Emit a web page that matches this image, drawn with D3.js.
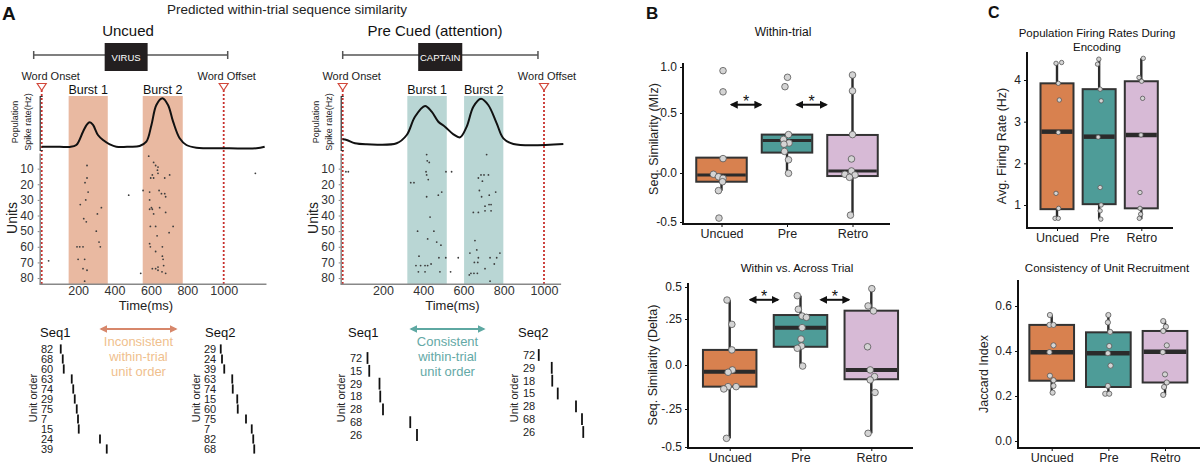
<!DOCTYPE html>
<html>
<head>
<meta charset="utf-8">
<script src="https://cdn.jsdelivr.net/npm/d3@7"></script>
<style>
  body { margin: 0; background: #fff; }
  svg { display: block; }
  text { font-family: "Liberation Sans", Arial, Helvetica, sans-serif; }
</style>
</head>
<body>
<svg id="chart" width="1200" height="465"></svg>
<script>
// ---------------- data ----------------
var conditions = ["Uncued", "Pre", "Retro"];

// panel A: population spike rate, [time ms, Hz]
var uncuedRate = [[0,0.73],[99,0.73],[154,0.67],[190,1.11],[227,4.07],[249,5.71],[264,6.16],[282,5.56],[309,3.33],[337,2.22],[374,1.27],[410,0.73],[484,0.73],[538,0.89],[575,1.84],[603,5.56],[630,10.0],[663,11.49],[694,10.0],[722,6.29],[758,2.6],[795,1.11],[850,0.51],[1033,0.38],[1180,0.38],[1225,0.73]];
var precuedRate = [[0,2.38],[20,2.22],[61,1.49],[119,1.27],[268,1.49],[318,3.33],[359,7.4],[409,9.78],[442,8.51],[475,6.29],[508,5.18],[550,3.49],[583,2.82],[616,5.18],[649,9.62],[687,11.4],[723,10.0],[765,5.93],[798,2.6],[848,1.33],[1096,1.33]];

// panel A: raster spikes, [time ms, unit]
var uncuedSpikes = [[249,8],[249,16],[238,19],[255,25],[242,30],[212,33],[328,35],[306,39],[231,42],[245,44],[300,50],[315,57],[322,60],[194,60],[209,60],[227,60],[200,68],[236,68],[227,74],[249,75],[236,82],
  [478,27],[38,69],[1174,13],[544,77],
  [588,2],[615,6],[626,8],[639,9],[636,11],[608,14],[599,16],[615,16],[639,13],[676,16],[703,14],[557,24],[593,25],[645,24],[658,26],[676,26],[681,28],[593,30],[603,35],[608,36],[615,39],[593,36],[648,35],[681,38],[722,47],[597,47],[626,47],[700,51],[634,53],[593,58],[597,60],[626,63],[663,60],[663,66],[667,68],[670,72],[639,73],[608,74],[639,75],[661,76],[681,77],[626,74]];
var precuedSpikes = [[417,1],[420,5],[430,6],[414,12],[417,14],[425,17],[338,19],[354,19],[417,28],[492,25],[475,27],[434,41],[372,50],[453,50],[422,55],[467,57],[488,59],[379,66],[478,67],[512,67],[364,72],[387,72],[409,72],[422,72],[439,71],[376,76],[409,76],[483,76],[513,12],
  [541,12],[574,67],[536,76],[16,12],[28,12],
  [715,1],[674,16],[687,14],[702,14],[724,14],[694,18],[679,24],[760,25],[690,28],[728,27],[707,34],[727,33],[737,33],[707,37],[737,37],[649,38],[674,38],[657,56],[666,62],[632,64],[674,67],[732,67],[765,67],[781,64],[654,70],[671,70],[753,71],[707,74],[629,78],[637,77],[652,77],[669,77],[732,82]];

var uncuedBursts = [[148,363],[555,775]];
var precuedBursts = [[321,517],[603,798]];
var burstNames = ["Burst 1", "Burst 2"];
// word bar: line start, box start, box end, line end (ms)
var uncuedWord = [-44,346,582,1022];
var precuedWord = [0,375,594,970];
var unitTicks = [10,20,30,40,50,60,70,80];
var timeTicks = [200,400,600,800,1000];

// unit order sequences: unit id and latency (ms)
var uncuedSeq1Units = [82,68,60,63,74,29,75,7,15,24,39];
var uncuedSeq1Lat = [31,39,43,75,81,87,95,100,103,188,215];
var uncuedSeq2Units = [29,24,39,63,74,15,60,75,7,82,68];
var uncuedSeq2Lat = [19,24,33,65,67,85,87,120,143,149,153];
var precuedSeq1Units = [72,15,29,18,28,68,26];
var precuedSeq1Lat = [22,29,70,73,84,193,220];
var precuedSeq2Units = [72,29,18,15,28,68,26];
var precuedSeq2Lat = [15,67,69,91,164,188,193];

// panel B: within-trial similarity (MIz)
var withinQ1 = [-0.089,0.17,-0.031];
var withinMedian = [-0.02,0.27,0.017];
var withinQ3 = [0.128,0.32,0.317];
var withinLow = [-0.18,0.0,-0.43];
var withinHigh = [0.128,0.32,0.913];
var withinPoints = [[0.96,0.73,0.12,-0.013,-0.038,-0.054,-0.089,-0.18,-0.46],[0.888,0.786,0.32,0.28,0.25,0.24,0.18,0.11,-0.003],[0.913,0.74,0.32,0.117,0.017,-0.013,-0.02,-0.044,-0.43]];
var withinJitter = [[0.03,0.03,0.03,-0.16,-0.06,0.03,0.02,-0.06,-0.05],[0.01,-0.04,0.03,-0.07,0.04,-0.06,-0.05,0.03,0.03],[0,0,0,-0.02,-0.02,-0.15,0.05,-0.06,-0.04]];
var withinTicks = [-0.5,0,0.5,1];
var withinTickLabels = ["-0.5","0.0","0.5","1.0"];

// panel B: within vs across trial (delta)
var acrossQ1 = [-0.123,0.099,-0.081];
var acrossMedian = [-0.038,0.203,-0.028];
var acrossQ3 = [0.082,0.281,0.315];
var acrossLow = [-0.443,-0.006,-0.41];
var acrossHigh = [0.398,0.432,0.487];
var acrossPoints = [[0.398,0.221,0.082,-0.028,-0.041,-0.123,-0.123,-0.136,-0.443],[0.432,0.326,0.273,0.263,0.203,0.141,0.103,0.091,-0.006],[0.487,0.352,0.313,0.099,-0.028,-0.066,-0.085,-0.156,-0.41]];
var acrossJitter = [[-0.05,0.04,0.04,0.05,-0.03,-0.03,0.12,-0.11,-0.06],[-0.06,-0.04,0.03,0.11,0.03,0.01,0.02,-0.06,0.04],[0.01,-0.06,0.04,-0.07,-0.02,0.06,-0.02,0.07,-0.06]];
var acrossTicks = [-0.5,-0.25,0,0.25,0.5];
var acrossTickLabels = ["-0.5","-.25","0.0",".25","0.5"];

// panel C: firing rate (Hz)
var rateQ1 = [0.90,1.02,0.92];
var rateMedian = [2.76,2.64,2.68];
var rateQ3 = [3.92,3.78,3.97];
var rateLow = [0.68,0.66,0.66];
var rateHigh = [4.42,4.50,4.52];
var ratePoints = [[4.40,4.42,3.92,3.52,2.74,1.28,0.92,0.68,0.68],[4.50,4.38,3.78,3.50,2.63,1.42,1.0,0.86,0.66],[4.52,4.06,3.97,3.56,2.68,1.30,0.92,0.78,0.68]];
var rateJitter = [[-0.03,0.14,0.04,0.07,0.04,-0.03,0.05,-0.06,0.04],[-0.01,-0.05,0.03,0.06,-0.03,0.03,0.06,0.03,0.05],[0.06,-0.07,0.01,0.04,-0.01,-0.04,-0.04,-0.02,-0.06]];
var rateTicks = [1,2,3,4];

// panel C: jaccard index
var jaccardQ1 = [0.268,0.24,0.26];
var jaccardMedian = [0.395,0.39,0.397];
var jaccardQ3 = [0.516,0.483,0.489];
var jaccardLow = [0.215,0.21,0.205];
var jaccardHigh = [0.56,0.56,0.533];
var jaccardPoints = [[0.56,0.516,0.516,0.425,0.395,0.29,0.27,0.245,0.215],[0.56,0.527,0.485,0.422,0.39,0.335,0.245,0.21,0.21],[0.533,0.508,0.489,0.425,0.395,0.296,0.26,0.24,0.205]];
var jaccardJitter = [[-0.04,-0.05,0.04,0.04,-0.05,-0.04,0.04,0.04,0.02],[0,-0.01,0.04,0.02,-0.01,0.05,-0.01,-0.07,0.02],[-0.04,0.02,-0.04,0.04,-0.05,0,0.04,-0.02,-0.04]];
var jaccardTicks = [0,0.2,0.4,0.6];
var jaccardTickLabels = ["0.0","0.2","0.4","0.6"];

var boxColors = ["#d8814f", "#4e9c98", "#d7bad6"];

// ---------------- drawing ----------------
var svg = d3.select("#chart");
var defs = svg.append("defs");

function addMarker(id, color) {
    defs.append("marker")
        .attr("id", id)
        .attr("viewBox", "0 0 10 10")
        .attr("refX", 8).attr("refY", 5)
        .attr("markerWidth", 4).attr("markerHeight", 4)
        .attr("orient", "auto-start-reverse")
        .append("path").attr("d", "M0,0L10,5L0,10z").attr("fill", color);
}
addMarker("arrBlack", "#111");
addMarker("arrOrange", "#d7876b");
addMarker("arrTeal", "#5ea8a2");

function label(g, x, y, s, size, anchor, fill, weight) {
    return g.append("text")
        .attr("x", x).attr("y", y)
        .attr("font-size", size + "px")
        .attr("text-anchor", anchor || "start")
        .attr("fill", fill || "#222")
        .attr("font-weight", weight || "normal")
        .text(s);
}

function vlabel(g, x, y, s, size, fill) {
    return g.append("text")
        .attr("transform", "translate(" + x + "," + y + ") rotate(-90)")
        .attr("dy", "0.35em")
        .attr("font-size", size + "px")
        .attr("text-anchor", "middle")
        .attr("fill", fill || "#222")
        .text(s);
}

// panel letters and main title
label(svg, 2, 20, "A", 19, "start", "#111", "bold");
label(svg, 646, 19, "B", 17, "start", "#111", "bold");
label(svg, 988, 18, "C", 16, "start", "#111", "bold");
label(svg, 287, 14, "Predicted within-trial sequence similarity", 13.5, "middle", "#222");

function rasterPanel(cfg) {
    var g = svg.append("g");
    var t = d3.scaleLinear().domain([0, 1000]).range([cfg.x0, cfg.x1000]);
    var u = d3.scaleLinear().domain([0, 84]).range([153, 284.3]);
    var r = d3.scaleLinear().domain([0, 12]).range([150, 96]);
    var axisX = cfg.x0 - 2;

    label(g, cfg.titleX, 36, cfg.title, 15, "middle", "#111");

    // word bar
    var w = cfg.word;
    g.append("line").attr("x1", t(w[0])).attr("x2", t(w[3])).attr("y1", 55).attr("y2", 55)
        .attr("stroke", "#555").attr("stroke-width", 1.5);
    [w[0], w[3]].forEach(function (d) {
        g.append("line").attr("x1", t(d)).attr("x2", t(d)).attr("y1", 51).attr("y2", 59)
            .attr("stroke", "#555").attr("stroke-width", 1.5);
    });
    g.append("rect").attr("x", t(w[1])).attr("width", t(w[2]) - t(w[1]))
        .attr("y", 43).attr("height", 28).attr("fill", "#231f20");
    label(g, (t(w[1]) + t(w[2])) / 2, 60.5, cfg.word_text, 9.5, "middle", "#fff");

    // burst shading
    g.selectAll("rect.burst").data(cfg.bursts).join("rect")
        .attr("class", "burst")
        .attr("x", function (d) { return t(d[0]); })
        .attr("width", function (d) { return t(d[1]) - t(d[0]); })
        .attr("y", r(12)).attr("height", u(84) - r(12))
        .attr("fill", cfg.shade);
    g.selectAll("text.burst").data(cfg.bursts).join("text")
        .attr("class", "burst")
        .attr("x", function (d) { return t((d[0] + d[1]) / 2); })
        .attr("y", 94)
        .attr("text-anchor", "middle").attr("font-size", "12.5px").attr("fill", "#111")
        .text(function (d, i) { return burstNames[i]; });

    // onset / offset markers
    [[0, "Word Onset", 9], [1000, "Word Offset", 3]].forEach(function (m) {
        var x = t(m[0]);
        g.append("line").attr("x1", x).attr("x2", x).attr("y1", 90).attr("y2", u(84))
            .attr("stroke", "#c8302c").attr("stroke-width", 1.8).attr("stroke-dasharray", "2,2");
        g.append("path").attr("d", "M" + (x - 4.5) + ",83.5L" + (x + 4.5) + ",83.5L" + x + ",90.5Z")
            .attr("fill", "#fff").attr("stroke", "#d2473a").attr("stroke-width", 1.2);
        label(g, x + m[2], 80, m[1], 11, "middle", "#222");
    });

    // population rate curve
    var line = d3.line()
        .x(function (d) { return t(d[0]); })
        .y(function (d) { return r(d[1]); })
        .curve(d3.curveCatmullRom.alpha(0.5));
    g.append("path").datum(cfg.rate).attr("d", line)
        .attr("fill", "none").attr("stroke", "#111").attr("stroke-width", 2);

    // raster
    g.selectAll("circle.spk").data(cfg.spikes).join("circle")
        .attr("class", "spk")
        .attr("cx", function (d) { return t(d[0]); })
        .attr("cy", function (d) { return u(d[1]); })
        .attr("r", 0.9).attr("fill", "#3d3d3d");

    // axes
    var rAxis = g.append("g").attr("transform", "translate(" + axisX + ",0)")
        .call(d3.axisLeft(r).tickValues([]).tickSizeOuter(-3));
    rAxis.select(".domain").attr("stroke", "#333").attr("stroke-width", 1.2);

    var uAxis = g.append("g").attr("transform", "translate(" + axisX + ",0)")
        .call(d3.axisLeft(u).tickValues(unitTicks).tickSize(2).tickSizeOuter(0).tickPadding(4));
    uAxis.select(".domain").attr("stroke", "#888").attr("stroke-width", 1.5);
    uAxis.selectAll(".tick line").attr("stroke", "#888");
    uAxis.selectAll("text").attr("font-size", "12px").attr("fill", "#333")
        .style("font-family", "'Liberation Sans', Arial, sans-serif");

    var tAxis = g.append("g").attr("transform", "translate(0," + u(84) + ")")
        .call(d3.axisBottom(t).tickValues(timeTicks).tickFormat(d3.format("d"))
            .tickSize(0).tickPadding(2));
    tAxis.select(".domain").remove();
    tAxis.selectAll("text").attr("font-size", "12.5px").attr("fill", "#333")
        .style("font-family", "'Liberation Sans', Arial, sans-serif");
    g.append("line").attr("x1", axisX).attr("x2", t(cfg.tEnd)).attr("y1", u(84)).attr("y2", u(84))
        .attr("stroke", "#888").attr("stroke-width", 1.5);

    label(g, t(cfg.timeLabelAt), 310, "Time(ms)", 13, "middle", "#222");
    vlabel(g, cfg.x0 - 29.5, 218, "Units", 14, "#222");
    vlabel(g, cfg.x0 - 27, 122, "Population", 9, "#222");
    vlabel(g, cfg.x0 - 14, 122, "Spike rate(Hz)", 9, "#222");
}

rasterPanel({
    title: "Uncued", titleX: 128, x0: 41.7, x1000: 223.7, tEnd: 1235,
    word: uncuedWord, word_text: "VIRUS", bursts: uncuedBursts, shade: "#e9b9a1",
    rate: uncuedRate, spikes: uncuedSpikes, timeLabelAt: 573
});
rasterPanel({
    title: "Pre Cued (attention)", titleX: 435, x0: 342.7, x1000: 544, tEnd: 1085,
    word: precuedWord, word_text: "CAPTAIN", bursts: precuedBursts, shade: "#b9d6d4",
    rate: precuedRate, spikes: precuedSpikes, timeLabelAt: 545
});

function seqBlock(cfg) {
    var g = svg.append("g");
    var rows = d3.scalePoint().domain(d3.range(cfg.units.length)).range(cfg.rowRange);
    var lat = d3.scaleLinear().domain([0, 100]).range([cfg.tickOrigin, cfg.tickOrigin + 25]);
    var half = rows.step() * 0.46;
    label(g, cfg.titleX, 337, cfg.title, 13, "start", "#111");
    g.selectAll("text.unit").data(cfg.units).join("text")
        .attr("class", "unit")
        .attr("x", cfg.labelLeft).attr("y", function (d, i) { return rows(i); })
        .attr("dy", "0.35em").attr("text-anchor", "start")
        .attr("font-size", "11px").attr("fill", "#222")
        .text(function (d) { return d; });
    g.selectAll("line.spk").data(cfg.lat).join("line")
        .attr("class", "spk")
        .attr("x1", function (d) { return lat(d); })
        .attr("x2", function (d) { return lat(d); })
        .attr("y1", function (d, i) { return rows(i) - half; })
        .attr("y2", function (d, i) { return rows(i) + half; })
        .attr("stroke", "#111").attr("stroke-width", 1.8);
    vlabel(g, cfg.orderX, 398, "Unit order", 11, "#222");
}

seqBlock({ title: "Seq1", titleX: 40, labelLeft: 41, tickOrigin: 53, rowRange: [349, 449], orderX: 33, units: uncuedSeq1Units, lat: uncuedSeq1Lat });
seqBlock({ title: "Seq2", titleX: 205, labelLeft: 204, tickOrigin: 216, rowRange: [349, 449], orderX: 196, units: uncuedSeq2Units, lat: uncuedSeq2Lat });
seqBlock({ title: "Seq1", titleX: 348, labelLeft: 350, tickOrigin: 362, rowRange: [358, 435], orderX: 341, units: precuedSeq1Units, lat: precuedSeq1Lat });
seqBlock({ title: "Seq2", titleX: 518, labelLeft: 523, tickOrigin: 535, rowRange: [355, 432], orderX: 514, units: precuedSeq2Units, lat: precuedSeq2Lat });

// seq order annotations
function orderNote(x1, x2, color, marker, textColor, lines) {
    svg.append("line").attr("x1", x1).attr("x2", x2).attr("y1", 329).attr("y2", 329)
        .attr("stroke", color).attr("stroke-width", 2)
        .attr("marker-start", "url(#" + marker + ")").attr("marker-end", "url(#" + marker + ")");
    lines.forEach(function (s, i) {
        label(svg, (x1 + x2) / 2, 346 + i * 14.8, s, 13, "middle", textColor);
    });
}
orderNote(101, 176, "#d7876b", "arrOrange", "#f0bf8e", ["Inconsistent", "within-trial", "unit order"]);
orderNote(411, 484, "#5ea8a2", "arrTeal", "#64a9a6", ["Consistent", "within-trial", "unit order"]);

function boxPanel(cfg) {
    var g = svg.append("g");
    var x = d3.scalePoint().domain(conditions).range(cfg.xRange);
    var y = d3.scaleLinear().domain(cfg.yDomain).range(cfg.yRange);
    var bw = cfg.boxWidth;

    // title
    cfg.title.forEach(function (s, i) {
        label(g, cfg.titleX, cfg.titleY + i * 14, s, cfg.titleSize, "middle", "#111");
    });
    vlabel(g, cfg.ylabX, cfg.ylabY, cfg.ylab, 12.5, "#222");

    // whiskers
    g.selectAll("line.whisk").data(conditions).join("line")
        .attr("class", "whisk")
        .attr("x1", function (d) { return x(d); }).attr("x2", function (d) { return x(d); })
        .attr("y1", function (d, i) { return y(cfg.low[i]); })
        .attr("y2", function (d, i) { return y(cfg.high[i]); })
        .attr("stroke", "#2b2b2b").attr("stroke-width", 2.4);
    // boxes
    g.selectAll("rect.box").data(conditions).join("rect")
        .attr("class", "box")
        .attr("x", function (d) { return x(d) - bw / 2; })
        .attr("width", bw)
        .attr("y", function (d, i) { return y(cfg.q3[i]); })
        .attr("height", function (d, i) { return y(cfg.q1[i]) - y(cfg.q3[i]); })
        .attr("fill", function (d, i) { return boxColors[i]; })
        .attr("stroke", "#333").attr("stroke-width", 2);
    // medians
    g.selectAll("line.med").data(conditions).join("line")
        .attr("class", "med")
        .attr("x1", function (d) { return x(d) - bw / 2 + 1; })
        .attr("x2", function (d) { return x(d) + bw / 2 - 1; })
        .attr("y1", function (d, i) { return y(cfg.median[i]); })
        .attr("y2", function (d, i) { return y(cfg.median[i]); })
        .attr("stroke", "#2b2b2b").attr("stroke-width", cfg.medianWidth);
    // points
    conditions.forEach(function (c, i) {
        g.selectAll("circle.pt" + i).data(cfg.points[i]).join("circle")
            .attr("class", "pt" + i)
            .attr("cx", function (d, j) { return x(c) + cfg.jitter[i][j] * bw; })
            .attr("cy", function (d) { return y(d); })
            .attr("r", cfg.radius)
            .attr("fill", "#d4d4d4").attr("stroke", "#555").attr("stroke-width", 0.8);
    });

    // axes
    var yAxis = g.append("g").attr("transform", "translate(" + cfg.axisX + ",0)")
        .call(d3.axisLeft(y).tickValues(cfg.ticks)
            .tickFormat(function (d, i) { return cfg.tickLabels ? cfg.tickLabels[i] : d; })
            .tickSize(3).tickPadding(3));
    yAxis.select(".domain").remove();
    yAxis.selectAll(".tick line").attr("stroke", "#111");
    yAxis.selectAll("text").attr("font-size", "12px").attr("fill", "#222")
        .style("font-family", "'Liberation Sans', Arial, sans-serif");
    g.append("line").attr("x1", cfg.axisX).attr("x2", cfg.axisX)
        .attr("y1", cfg.axisTop).attr("y2", cfg.axisBottom + 1)
        .attr("stroke", "#111").attr("stroke-width", 2);

    var xAxis = g.append("g").attr("transform", "translate(0," + cfg.axisBottom + ")")
        .call(d3.axisBottom(x).tickSize(3).tickPadding(2));
    xAxis.select(".domain").remove();
    xAxis.selectAll(".tick line").attr("stroke", "#111");
    xAxis.selectAll("text").attr("font-size", "12.5px").attr("fill", "#222")
        .style("font-family", "'Liberation Sans', Arial, sans-serif");
    g.append("line").attr("x1", cfg.axisX - 1).attr("x2", cfg.axisRight)
        .attr("y1", cfg.axisBottom).attr("y2", cfg.axisBottom)
        .attr("stroke", "#111").attr("stroke-width", 2);

    // significance arrows
    (cfg.sig || []).forEach(function (s) {
        var c1 = x(conditions[s[0]]), c2 = x(conditions[s[1]]);
        var sp = c2 - c1, ya = y(cfg.sigValue);
        var xa = c1 + cfg.sigFrom * sp, xb = c1 + cfg.sigTo * sp;
        g.append("line").attr("x1", xa + 2).attr("x2", xb - 2).attr("y1", ya).attr("y2", ya)
            .attr("stroke", "#111").attr("stroke-width", 2)
            .attr("marker-start", "url(#arrBlack)").attr("marker-end", "url(#arrBlack)");
        label(g, (xa + xb) / 2, ya + 2, "*", 16, "middle", "#111");
    });
}

boxPanel({
    title: ["Within-trial"], titleX: 783, titleY: 36, titleSize: 12,
    ylab: "Seq. Similarity (MIz)", ylabX: 653.5, ylabY: 139,
    xRange: [721.5, 852.5], yDomain: [-0.5, 0, 0.5, 1], yRange: [222, 173, 113, 67],
    boxWidth: 50.5, axisX: 683, axisTop: 63, axisBottom: 224, axisRight: 890,
    ticks: withinTicks, tickLabels: withinTickLabels,
    q1: withinQ1, median: withinMedian, q3: withinQ3, low: withinLow, high: withinHigh,
    points: withinPoints, jitter: withinJitter, radius: 3.3, medianWidth: 3,
    sig: [[0, 1], [1, 2]], sigValue: 0.59, sigFrom: 0.12, sigTo: 0.63
});
boxPanel({
    title: ["Within vs. Across Trial"], titleX: 797, titleY: 272, titleSize: 11.5,
    ylab: "Seq. Similarity (Delta)", ylabX: 653, ylabY: 365,
    xRange: [729.7, 871.3], yDomain: [-0.5, -0.25, 0, 0.25, 0.5], yRange: [447, 409, 365, 319, 287],
    boxWidth: 53.5, axisX: 688, axisTop: 283, axisBottom: 448, axisRight: 913,
    ticks: acrossTicks, tickLabels: acrossTickLabels,
    q1: acrossQ1, median: acrossMedian, q3: acrossQ3, low: acrossLow, high: acrossHigh,
    points: acrossPoints, jitter: acrossJitter, radius: 3.3, medianWidth: 4,
    sig: [[0, 1], [1, 2]], sigValue: 0.40, sigFrom: 0.26, sigTo: 0.71
});
boxPanel({
    title: ["Population Firing Rates During", "Encoding"], titleX: 1097, titleY: 36.5, titleSize: 11.5,
    ylab: "Avg. Firing Rate (Hz)", ylabX: 1001.5, ylabY: 146,
    xRange: [1057, 1141.3], yDomain: [1, 4], yRange: [205, 80],
    boxWidth: 33, axisX: 1027, axisTop: 52, axisBottom: 228, axisRight: 1173,
    ticks: rateTicks, tickLabels: null,
    q1: rateQ1, median: rateMedian, q3: rateQ3, low: rateLow, high: rateHigh,
    points: ratePoints, jitter: rateJitter, radius: 2.2, medianWidth: 4.5
});
boxPanel({
    title: ["Consistency of Unit Recruitment"], titleX: 1107, titleY: 272, titleSize: 11.5,
    ylab: "Jaccard Index", ylabX: 984, ylabY: 374,
    xRange: [1051.7, 1165], yDomain: [0, 0.6], yRange: [441, 306],
    boxWidth: 44.7, axisX: 1018, axisTop: 280, axisBottom: 448, axisRight: 1200,
    ticks: jaccardTicks, tickLabels: jaccardTickLabels,
    q1: jaccardQ1, median: jaccardMedian, q3: jaccardQ3, low: jaccardLow, high: jaccardHigh,
    points: jaccardPoints, jitter: jaccardJitter, radius: 2.6, medianWidth: 4.5
});
</script>
</body>
</html>
